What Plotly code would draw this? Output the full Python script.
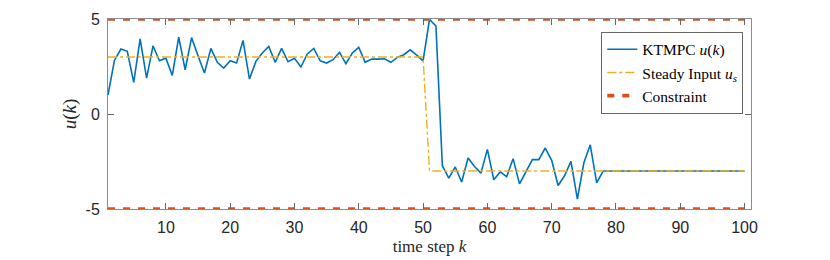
import plotly.graph_objects as go

k = list(range(1, 101))
u = [1.00, 2.82, 3.42, 3.30, 1.66, 3.95, 1.89, 3.59, 2.80, 2.94,
     2.03, 4.05, 2.33, 4.02, 3.07, 2.16, 3.45, 2.72, 2.42, 2.80,
     2.68, 3.87, 1.84, 2.77, 3.21, 3.56, 2.72, 3.45, 2.75, 2.93,
     2.47, 3.16, 3.45, 2.80, 2.68, 2.86, 3.24, 2.65, 3.21, 3.51,
     2.72, 2.89, 2.89, 2.91, 2.72, 2.98, 3.12, 3.38, 3.10, 2.80,
     4.98, 4.63, -2.72, -3.37, -2.79, -3.58, -2.32, -2.76, -3.11, -1.86,
     -3.46, -3.05, -3.30, -2.35, -3.68, -3.08, -2.40, -2.40, -1.79, -2.44,
     -3.76, -3.25, -2.49, -4.48, -2.58, -1.62, -3.63, -3.00] + [-3.0] * 22
u_s = [3.0] * 50 + [-3.0] * 50
k_con = [1, 101]
u_max = [5, 5]
u_min = [-5, -5]

x_ticks = [10, 20, 30, 40, 50, 60, 70, 80, 90, 100]
y_ticks = [-5, 0, 5]

BLUE = "#0072BD"
YELLOW = "#EDB120"
RED = "#D95319"
SERIF = "Liberation Serif, DejaVu Serif, serif"
SANS = "Liberation Sans, Arial, sans-serif"

fig = go.Figure()
fig.add_trace(go.Scatter(x=k, y=u, mode="lines", name="KTMPC <i>u</i>(<i>k</i>)",
                         line=dict(color=BLUE, width=1.6)))
fig.add_trace(go.Scatter(x=k, y=u_s, mode="lines", name="Steady Input <i>u<sub>s</sub></i>",
                         line=dict(color=YELLOW, width=1.4, dash="dashdot")))
fig.add_trace(go.Scatter(x=k_con, y=u_max, mode="lines", name="Constraint", cliponaxis=False,
                         line=dict(color=RED, width=3.6, dash="7px,8px")))
fig.add_trace(go.Scatter(x=k_con, y=u_min, mode="lines", name="Constraint", showlegend=False,
                         cliponaxis=False, line=dict(color=RED, width=3.6, dash="7px,8px")))

axis_common = dict(showgrid=False, zeroline=False, showline=True, linecolor="#8c8c8c",
                   linewidth=1, mirror="ticks", ticks="inside", ticklen=6, tickcolor="#666",
                   tickwidth=1, automargin=False,
                   tickfont=dict(family=SANS, size=16, color="#262626"))

# page body has an 8px margin: offset margins so the plot area lands where the reference's is
fig.update_layout(
    width=830, height=260,
    margin=dict(l=100, r=87, t=11, b=59),
    paper_bgcolor="white", plot_bgcolor="white",
    xaxis=dict(range=[1, 101], tickvals=x_ticks, ticktext=[str(v) for v in x_ticks],
               title=dict(text="time step <i>k</i>", font=dict(family=SERIF, size=17, color="#262626"),
                          standoff=4),
               ticklabelstandoff=4,
               **axis_common),
    yaxis=dict(range=[-5, 5], tickvals=y_ticks, ticktext=[str(v) for v in y_ticks],
               title=dict(text="<i>u</i>(<i>k</i>)", font=dict(family=SERIF, size=19, color="#262626"),
                          standoff=3),
               ticklabelstandoff=4,
               **axis_common),
    legend=dict(x=0.988, y=0.933, xanchor="right", yanchor="top",
                bordercolor="#666666", borderwidth=1, bgcolor="white",
                font=dict(family=SERIF, size=15.5, color="#000"),
                tracegroupgap=0, itemwidth=30),
    showlegend=True,
)

fig.write_html("out.html")
